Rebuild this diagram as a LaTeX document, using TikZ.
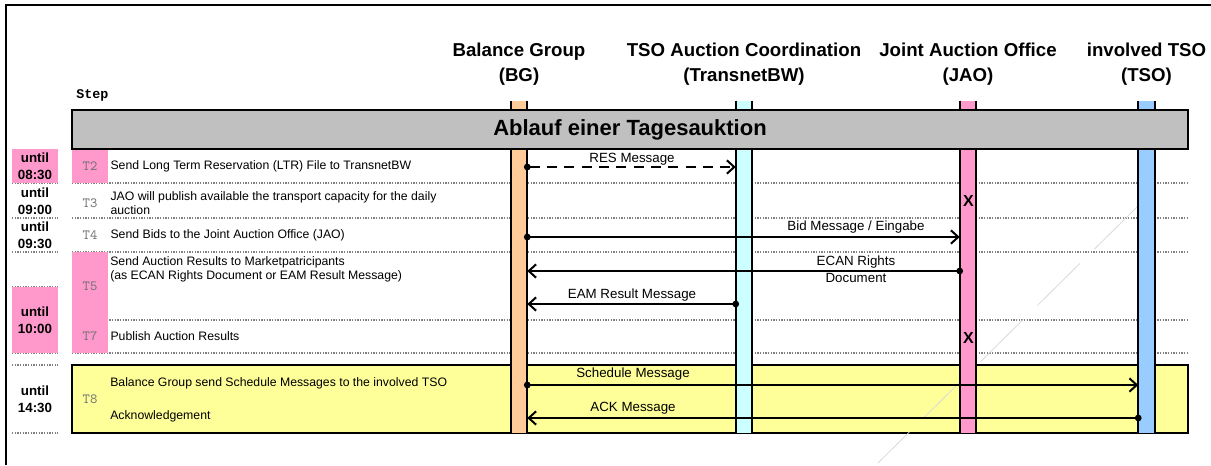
\documentclass[tikz,border=0pt]{standalone}
\usepackage{fontspec}
\setmainfont{Liberation Sans}
\newfontfamily\stephead{Liberation Mono}
\usetikzlibrary{arrows.meta,positioning}

\definecolor{bgcol}{HTML}{FFCC99}
\definecolor{tnbcol}{HTML}{CCFFFF}
\definecolor{jaocol}{HTML}{FF99CC}
\definecolor{tsocol}{HTML}{99CCFF}
\definecolor{barcol}{HTML}{C0C0C0}
\definecolor{notecol}{HTML}{FFFF99}
\definecolor{stepgray}{HTML}{707070}

\begin{document}
\begin{tikzpicture}[x=0.75pt, y=-0.75pt,
  every node/.style={inner sep=0pt, font=\fontsize{9.2}{10.5}\selectfont},
  head/.style={align=center, font=\fontsize{14}{18.75}\selectfont\bfseries},
  until/.style={minimum width=34.5pt, align=center, font=\fontsize{10}{12.8}\selectfont\bfseries},
  stepno/.style={minimum width=27pt, text=stepgray, font=\fontsize{10.5}{11}\ttfamily},
  rowtxt/.style={anchor=west, align=left},
  lifeline/.style={minimum width=12pt, minimum height=249pt},
  sep/.style={gray, densely dotted, line width=1pt},
  msg/.style={line width=1.5pt, {Circle[length=5pt]}-{Straight Barb[length=5.5pt,width=10pt]}, shorten <=-2.5pt},
  lbl/.style={align=center, font=\fontsize{10}{12.5}\selectfont},
  xmark/.style={font=\fontsize{12}{12}\selectfont\bfseries}]
\useasboundingbox (0,0) rectangle (1211,465);
\draw[line width=1.5pt] (6,465) -- (6,5) -- (1211,5);

% rows
\draw[fill=notecol, line width=0.8pt] (72,365) rectangle (1188,433);
\foreach \y in {183,218,252,320,353} \draw[sep] (72,\y) -- (1188,\y);
\foreach \y in {183,218,252,287,353,365,433} \draw[sep] (12,\y) -- (58,\y);

% time column
\node[until, fill=jaocol, minimum height=25.5pt] (u1) at (35,166) {until\\08:30};
\node[until] (u2) at (35,201) {until\\09:00};
\node[until] (u3) at (35,235.5) {until\\09:30};
\node[until, fill=jaocol, minimum height=49.5pt] (u4) at (35,320) {until\\10:00};
\node[until] (u5) at (35,399) {until\\14:30};

% steps
\node[font=\fontsize{10}{10}\stephead\bfseries, anchor=west] (steph) at (76,95) {Step};
\node[stepno, fill=jaocol, minimum height=24.75pt] (t2) at (90,166.5) {T2};
\node[stepno] (t3) at (90,203) {T3};
\node[stepno] (t4) at (90,235) {T4};
\node[stepno, fill=jaocol, minimum height=51pt] (t5) at (90,286) {T5};
\node[stepno, fill=jaocol, minimum height=24.75pt] (t7) at (90,336.5) {T7};
\node[stepno] (t8) at (90,399) {T8};
\node[rowtxt, right=1.5pt of t2] (s2) {Send Long Term Reservation (LTR) File to TransnetBW};
\node[rowtxt, right=1.5pt of t3] (s3) {JAO will publish available the transport capacity for the daily\\auction};
\node[rowtxt, right=1.5pt of t4] (s4) {Send Bids to the Joint Auction Office (JAO)};
\node[rowtxt] (s5) at (110,269) {Send Auction Results to Marketpatricipants\\(as ECAN Rights Document or EAM Result Message)};
\node[rowtxt, right=1.5pt of t7] (s7) {Publish Auction Results};
\node[rowtxt] (s8a) at (110,383) {Balance Group send Schedule Messages to the involved TSO};
\node[rowtxt] (s8b) at (110,416) {Acknowledgement};

% faint stroke
\draw[gray!30, line width=0.6pt, dash pattern=on 45pt off 15pt] (1137,207) -- (878,463);

% lifelines
\node[lifeline, fill=bgcol] (bg) at (519,267) {};
\node[lifeline, fill=tnbcol] (tnb) at (744,267) {};
\node[lifeline, fill=jaocol] (jao) at (968,267) {};
\node[lifeline, fill=tsocol] (tso) at (1146.5,267) {};
\foreach \l in {bg,tnb,jao,tso}
  \draw[line width=1.2pt] (\l.north west) -- (\l.south west) (\l.north east) -- (\l.south east);

\node[head] (hbg) at (519,64.5) {Balance Group\\(BG)};
\node[head] (htnb) at (744,64.5) {TSO Auction Coordination\\(TransnetBW)};
\node[head] (hjao) at (968,64.5) {Joint Auction Office\\(JAO)};
\node[head] (htso) at (1146.5,64.5) {involved TSO\\(TSO)};

\node[draw, fill=barcol, line width=1.2pt, minimum width=837pt, minimum height=29.25pt,
  font=\fontsize{16.5}{16.5}\selectfont\bfseries] (bar) at (630,129.5) {Ablauf einer Tagesauktion};

% messages
\coordinate (m2) at (0,167);
\coordinate (m4) at (0,237);
\coordinate (m5a) at (0,271);
\coordinate (m5b) at (0,304);
\coordinate (m8a) at (0,385);
\coordinate (m8b) at (0,418);
\draw[msg, dash pattern=on 7.5pt off 5.5pt] (bg.east |- m2) -- (tnb.west |- m2);
\draw[msg] (bg.east |- m4) -- (jao.west |- m4);
\draw[msg] (jao.west |- m5a) -- (bg.east |- m5a);
\draw[msg] (tnb.west |- m5b) -- (bg.east |- m5b);
\draw[msg] (bg.east |- m8a) -- (tso.west |- m8a);
\draw[msg] (tso.west |- m8b) -- (bg.east |- m8b);
\node[lbl] (l2) at (632,159) {RES Message};
\node[lbl] (l4) at (856,227) {Bid Message / Eingabe};
\node[lbl] (l5a) at (856,269.5) {ECAN Rights\\Document};
\node[lbl] (l5b) at (632,295) {EAM Result Message};
\node[lbl] (l8a) at (633,374.5) {Schedule Message};
\node[lbl] (l8b) at (633,408.5) {ACK Message};

\node[xmark] (x3) at (968.5,200.5) {X};
\node[xmark] (x7) at (968.5,338) {X};
\end{tikzpicture}
\end{document}
